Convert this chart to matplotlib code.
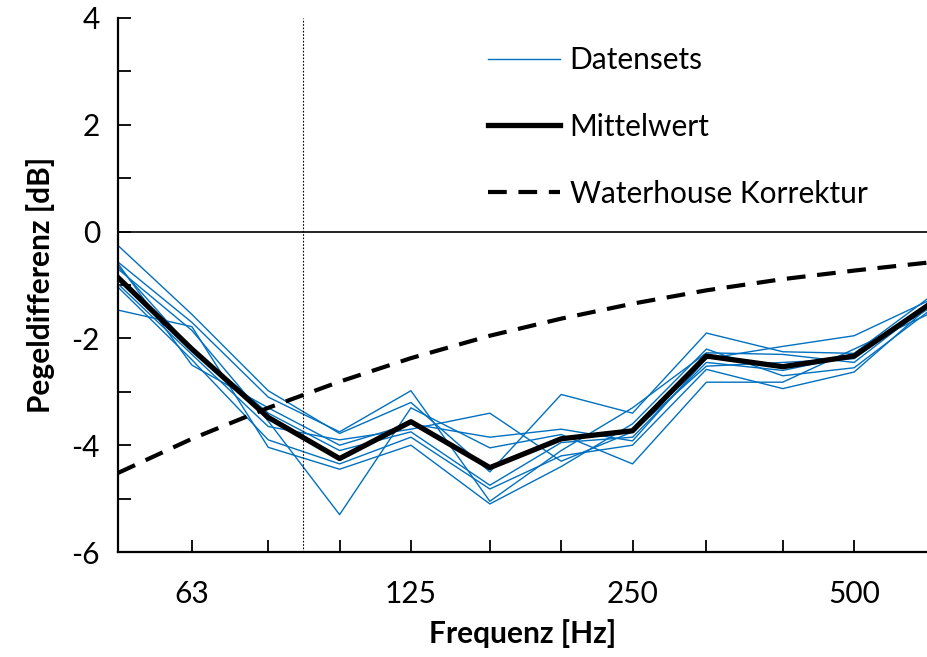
import numpy as np
import matplotlib.pyplot as plt
from matplotlib.ticker import FixedLocator, NullLocator, NullFormatter

# third-octave band centre frequencies
freqs = [50, 63, 80, 100, 125, 160, 200, 250, 315, 400, 500, 630]
tick_freqs = [63, 125, 250, 500]

# level differences of the single data sets [dB]
datasets = [
    [-0.26, -1.55, -2.98, -3.78, -3.20, -4.50, -3.05, -3.40, -1.90, -2.25, -2.28, -1.25],
    [-0.57, -1.70, -3.10, -3.75, -2.98, -5.05, -4.10, -3.30, -2.27, -2.30, -2.45, -1.38],
    [-0.60, -2.50, -3.30, -4.00, -3.60, -3.85, -3.70, -3.92, -2.38, -2.15, -1.95, -1.30],
    [-0.65, -2.20, -3.40, -4.10, -3.75, -4.75, -3.95, -3.85, -2.45, -2.60, -2.32, -1.45],
    [-0.70, -1.85, -3.55, -5.30, -3.30, -4.05, -3.80, -4.35, -2.82, -2.82, -2.20, -1.55],
    [-0.98, -2.30, -3.65, -3.90, -3.70, -3.40, -4.30, -3.75, -2.52, -2.45, -2.38, -1.35],
    [-1.04, -2.40, -3.90, -4.35, -3.85, -4.82, -4.20, -4.00, -2.58, -2.94, -2.63, -1.42],
    [-1.47, -1.78, -4.04, -4.45, -4.00, -5.10, -4.40, -3.60, -2.20, -2.70, -2.55, -1.50],
]
mean_values = [-0.86, -2.20, -3.48, -4.25, -3.56, -4.42, -3.88, -3.73, -2.33, -2.53, -2.33, -1.38]
waterhouse = [-4.52, -3.88, -3.30, -2.81, -2.37, -1.95, -1.63, -1.35, -1.10, -0.89, -0.73, -0.58]
f_limit = 89.1

plt.rcParams['font.family'] = ['Lato', 'DejaVu Sans']
plt.rcParams['axes.unicode_minus'] = False

fig = plt.figure(figsize=(9.28, 6.57), dpi=100)
ax = fig.add_axes([118/928, 1-552/657, 1-118/928, (552-18)/657])

blue = '#0070C0'
for i, d in enumerate(datasets):
    ax.plot(freqs, d, color=blue, lw=1.0, label='Datensets' if i == 0 else None)
ax.plot(freqs, mean_values, color='black', lw=3.8, label='Mittelwert')
ax.plot(freqs, waterhouse, color='black', lw=3.0, dashes=(4.5, 2.8), label='Waterhouse Korrektur')

ax.axhline(0, color='black', lw=1.2)
ax.axvline(f_limit, color='black', lw=0.8, linestyle=(0, (1.5, 1.5)))

ax.set_xscale('log')
ax.set_xlim(50, 630)
ax.set_ylim(-6, 4)
ax.xaxis.set_major_locator(FixedLocator(freqs[1:-1]))
ax.xaxis.set_major_formatter(plt.FixedFormatter(
    [str(f) if f in tick_freqs else '' for f in freqs[1:-1]]))
ax.xaxis.set_minor_locator(NullLocator())
ax.xaxis.set_minor_formatter(NullFormatter())
ax.set_yticks([-6, -4, -2, 0, 2, 4])
ax.set_yticks([-5, -3, -1, 1, 3], minor=True)

ax.tick_params(axis='both', which='both', direction='in', length=9, width=1.3,
               labelsize=21.5, color='black')
ax.tick_params(axis='x', pad=20)
ax.tick_params(axis='y', pad=13)

for s in ['top', 'right']:
    ax.spines[s].set_visible(False)
for s in ['left', 'bottom']:
    ax.spines[s].set_linewidth(1.6)

ax.set_xlabel('Frequenz [Hz]', fontsize=21.5, fontweight='bold', labelpad=8)
ax.set_ylabel('Pegeldifferenz [dB]', fontsize=21.5, fontweight='bold', labelpad=12)

fig.legend(loc='upper left', bbox_to_anchor=(488/928, 1-46/657), frameon=False,
           fontsize=21.5, handlelength=2.4, handletextpad=0.33, labelspacing=1.3,
           borderpad=0, borderaxespad=0)

fig.savefig('out.png', dpi=100)
